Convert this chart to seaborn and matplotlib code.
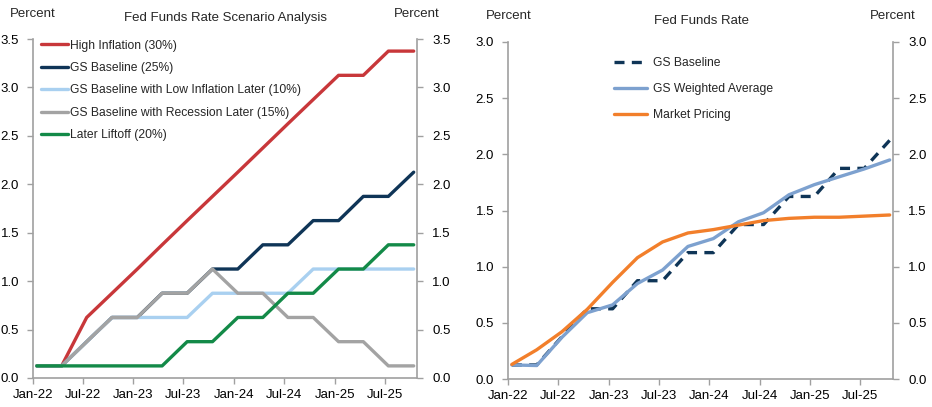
import matplotlib
matplotlib.use("Agg")
import matplotlib.pyplot as plt
import matplotlib.dates as mdates
import pandas as pd
import seaborn as sns

# ---------------- data ----------------
quarters = ["2022-01-15", "2022-04-15", "2022-07-15", "2022-10-15",
            "2023-01-15", "2023-04-15", "2023-07-15", "2023-10-15",
            "2024-01-15", "2024-04-15", "2024-07-15", "2024-10-15",
            "2025-01-15", "2025-04-15", "2025-07-15", "2025-10-15"]

high_inflation = [0.125, 0.125, 0.625, 0.875, 1.125, 1.375, 1.625, 1.875,
                  2.125, 2.375, 2.625, 2.875, 3.125, 3.125, 3.375, 3.375]
gs_baseline = [0.125, 0.125, 0.375, 0.625, 0.625, 0.875, 0.875, 1.125,
               1.125, 1.375, 1.375, 1.625, 1.625, 1.875, 1.875, 2.125]
low_inflation_later = [0.125, 0.125, 0.375, 0.625, 0.625, 0.625, 0.625, 0.875,
                       0.875, 0.875, 0.875, 1.125, 1.125, 1.125, 1.125, 1.125]
recession_later = [0.125, 0.125, 0.375, 0.625, 0.625, 0.875, 0.875, 1.125,
                   0.875, 0.875, 0.625, 0.625, 0.375, 0.375, 0.125, 0.125]
later_liftoff = [0.125, 0.125, 0.125, 0.125, 0.125, 0.125, 0.375, 0.375,
                 0.625, 0.625, 0.875, 0.875, 1.125, 1.125, 1.375, 1.375]

weighted_average = [0.125, 0.12, 0.37, 0.59, 0.66, 0.85, 0.97, 1.18,
                    1.25, 1.40, 1.48, 1.64, 1.73, 1.80, 1.87, 1.95]
market_pricing = [0.13, 0.26, 0.42, 0.62, 0.86, 1.08, 1.22, 1.30,
                  1.33, 1.37, 1.41, 1.43, 1.44, 1.44, 1.45, 1.46]

left_labels = ["High Inflation (30%)", "GS Baseline (25%)",
               "GS Baseline with Low Inflation Later (10%)",
               "GS Baseline with Recession Later (15%)", "Later Liftoff (20%)"]
right_labels = ["GS Baseline", "GS Weighted Average", "Market Pricing"]
left_title = "Fed Funds Rate Scenario Analysis"
right_title = "Fed Funds Rate"
unit_label = "Percent"

# ---------------- style ----------------
sns.set_style("ticks")
plt.rcParams["font.family"] = ["Liberation Sans", "DejaVu Sans"]
FS = 9.5
LFS = 8.75
GRID = "#a0a0a0"

dates = pd.to_datetime(quarters)
W, H = 932, 407
fig = plt.figure(figsize=(W / 100, H / 100), dpi=100)


def frac(x0, y0, x1, y1):
    return [x0 / W, 1 - y1 / H, (x1 - x0) / W, (y1 - y0) / H]


def style_axes(ax, ymax):
    ax.set_xlim(pd.Timestamp("2022-01-01"), pd.Timestamp("2025-10-27"))
    ax.set_ylim(0, ymax)
    ticks = [i * 0.5 for i in range(int(round(ymax / 0.5)) + 1)]
    ax.set_yticks(ticks)
    ax.set_yticklabels([f"{t:.1f}" for t in ticks])
    ax.xaxis.set_major_locator(mdates.MonthLocator(bymonth=[1, 7]))
    ax.xaxis.set_major_formatter(mdates.DateFormatter("%b-%y"))
    for s in ["top", "right"]:
        ax.spines[s].set_visible(False)
    for s in ["left", "bottom"]:
        ax.spines[s].set_color(GRID)
        ax.spines[s].set_linewidth(1.2)
    ax.tick_params(axis="both", direction="out", length=4, width=1.0,
                   color=GRID, labelsize=FS, labelcolor="black")
    ax.tick_params(axis="y", pad=6)
    ax.tick_params(axis="x", pad=4)
    ax.set_xlabel("")
    ax.set_ylabel("")
    tw = ax.twinx()
    tw.set_ylim(0, ymax)
    tw.set_yticks(ticks)
    tw.set_yticklabels([f"{t:.1f}" for t in ticks])
    for s in ["top", "left", "bottom"]:
        tw.spines[s].set_visible(False)
    tw.spines["right"].set_color(GRID)
    tw.spines["right"].set_linewidth(1.2)
    tw.tick_params(axis="y", direction="out", length=4, width=1.0,
                   color=GRID, labelsize=FS, labelcolor="black", pad=7)
    tw.grid(False)
    ax.grid(False)
    return tw


# ---------------- left panel ----------------
axL = fig.add_axes(frac(33, 39, 417, 378))
left_series = [high_inflation, gs_baseline, low_inflation_later,
               recession_later, later_liftoff]
left_colors = ["#c8373a", "#0f3557", "#a9d0f0", "#a3a3a3", "#138a48"]
for vals, lab, col in zip(left_series, left_labels, left_colors):
    sns.lineplot(x=dates, y=vals, ax=axL, color=col, lw=2.4, label=lab,
                 legend=False)
style_axes(axL, 3.5)
hL, lL = axL.get_legend_handles_labels()
axL.legend(hL, lL, loc="upper left", bbox_to_anchor=(41 / W, 1 - 39.5 / H),
           bbox_transform=fig.transFigure, frameon=False, fontsize=LFS,
           handlelength=2.2, handletextpad=0.15, labelspacing=0.86,
           borderpad=0, borderaxespad=0)

fig.text(10 / W, 1 - 14 / H, unit_label, fontsize=FS, va="center", ha="left")
fig.text(440 / W, 1 - 14 / H, unit_label, fontsize=FS, va="center", ha="right")
fig.text(225 / W, 1 - 18 / H, left_title, fontsize=FS, va="center", ha="center")

# ---------------- right panel ----------------
axR = fig.add_axes(frac(508, 42, 893, 379))
sns.lineplot(x=dates, y=gs_baseline, ax=axR, color="#0f3557", lw=2.4,
             linestyle=(0, (3.0, 2.2)), label=right_labels[0], legend=False)
sns.lineplot(x=dates, y=weighted_average, ax=axR, color="#7da1cf", lw=2.4,
             label=right_labels[1], legend=False)
sns.lineplot(x=dates, y=market_pricing, ax=axR, color="#f27f2b", lw=2.4,
             label=right_labels[2], legend=False)
style_axes(axR, 3.0)
hR, lR = axR.get_legend_handles_labels()
axR.legend(hR, lR, loc="upper left", bbox_to_anchor=(614 / W, 1 - 57.5 / H),
           bbox_transform=fig.transFigure, frameon=False, fontsize=LFS,
           handlelength=2.7, handletextpad=0.5, labelspacing=1.13,
           borderpad=0, borderaxespad=0)

fig.text(486 / W, 1 - 16 / H, unit_label, fontsize=FS, va="center", ha="left")
fig.text(916 / W, 1 - 16 / H, unit_label, fontsize=FS, va="center", ha="right")
fig.text(701 / W, 1 - 21 / H, right_title, fontsize=FS, va="center", ha="center")

fig.savefig("out.png", dpi=100)
